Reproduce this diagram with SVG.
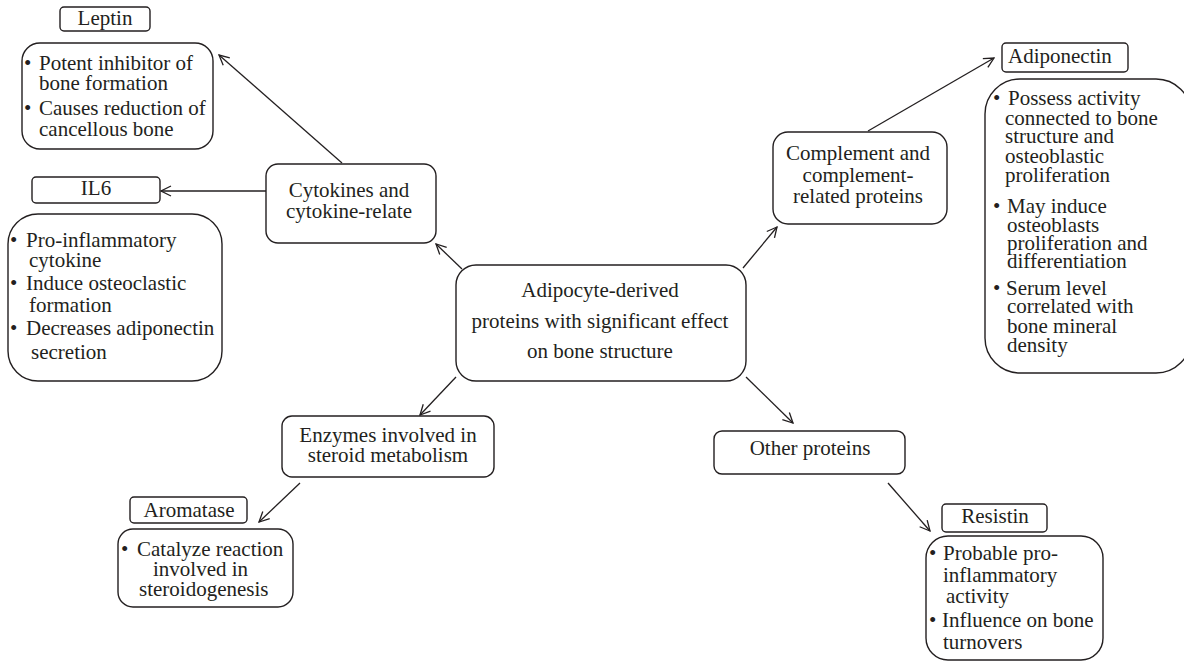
<svg xmlns="http://www.w3.org/2000/svg" width="1184" height="663" viewBox="0 0 1184 663">
<style>
.box{fill:#fff;stroke:#231f20;stroke-width:1.4}
text{font-family:"Liberation Serif","Times New Roman",serif;font-size:21px;fill:#231f20}
.c{text-anchor:middle}
.ln{stroke:#231f20;stroke-width:1.3;fill:none}
</style>
<defs>
<marker id="ah" viewBox="0 0 12 12" refX="11" refY="6" markerWidth="12" markerHeight="12" markerUnits="userSpaceOnUse" orient="auto">
<path d="M1,1 L11,6 L1,11" fill="none" stroke="#231f20" stroke-width="1.3"/>
</marker>
</defs>
<rect width="1184" height="663" fill="#fff"/>

<g id="connectors">
<line class="ln" x1="342" y1="163" x2="219" y2="55" marker-end="url(#ah)"/>
<line class="ln" x1="266" y1="191" x2="161" y2="191" stroke-width="2.2" marker-end="url(#ah)"/>
<line class="ln" x1="462" y1="269" x2="436" y2="244" marker-end="url(#ah)"/>
<line class="ln" x1="743" y1="268" x2="777" y2="227" marker-end="url(#ah)"/>
<line class="ln" x1="868" y1="131" x2="994" y2="58" marker-end="url(#ah)"/>
<line class="ln" x1="456" y1="377" x2="420" y2="415" marker-end="url(#ah)"/>
<line class="ln" x1="746" y1="377" x2="793" y2="423" marker-end="url(#ah)"/>
<line class="ln" x1="300" y1="483" x2="259" y2="522" marker-end="url(#ah)"/>
<line class="ln" x1="888" y1="483" x2="930" y2="531" marker-end="url(#ah)"/>
</g>

<g id="center">
<rect class="box" x="456" y="265" width="290" height="116" rx="20"/>
<text class="c" x="600" y="297">Adipocyte-derived</text>
<text class="c" x="600" y="328">proteins with significant effect</text>
<text class="c" x="600" y="358">on bone structure</text>
</g>

<g id="cytokines">
<rect class="box" x="266" y="164" width="170" height="79" rx="12"/>
<text class="c" x="349" y="197">Cytokines and</text>
<text class="c" x="349" y="218">cytokine-relate</text>
</g>

<g id="leptin">
<rect class="box" x="60" y="7" width="90" height="24" rx="4"/>
<text class="c" x="105" y="25">Leptin</text>
</g>

<g id="leptin-details">
<rect class="box" x="22" y="43" width="191" height="106" rx="18"/>
<text x="24" y="70">•<tspan x="39">Potent inhibitor of</tspan></text>
<text x="39" y="90">bone formation</text>
<text x="24" y="115">•<tspan x="39">Causes reduction of</tspan></text>
<text x="39" y="136">cancellous bone</text>
</g>

<g id="il6">
<rect class="box" x="32" y="177" width="128" height="26" rx="4"/>
<text class="c" x="96" y="195">IL6</text>
</g>

<g id="il6-details">
<rect class="box" x="8" y="214" width="214" height="167" rx="30"/>
<text x="10" y="247">•<tspan x="26">Pro-inflammatory</tspan></text>
<text x="29" y="267">cytokine</text>
<text x="10" y="290">•<tspan x="26">Induce osteoclastic</tspan></text>
<text x="29" y="312">formation</text>
<text x="10" y="335">•<tspan x="26">Decreases adiponectin</tspan></text>
<text x="31" y="359">secretion</text>
</g>

<g id="complement">
<rect class="box" x="773" y="132" width="174" height="92" rx="15"/>
<text class="c" x="858" y="160">Complement and</text>
<text class="c" x="858" y="182">complement-</text>
<text class="c" x="858" y="203">related proteins</text>
</g>

<g id="adiponectin">
<rect class="box" x="1002" y="43" width="126" height="29" rx="4"/>
<text x="1008" y="63">Adiponectin</text>
</g>

<g id="adiponectin-details">
<rect class="box" x="985" y="79" width="206" height="294" rx="35"/>
<text x="993" y="105">•<tspan x="1008">Possess activity</tspan></text>
<text x="1005" y="125">connected to bone</text>
<text x="1005" y="143">structure and</text>
<text x="1005" y="163">osteoblastic</text>
<text x="1005" y="182">proliferation</text>
<text x="993" y="213">•<tspan x="1007">May induce</tspan></text>
<text x="1007" y="232">osteoblasts</text>
<text x="1007" y="250">proliferation and</text>
<text x="1007" y="268">differentiation</text>
<text x="993" y="295">•<tspan x="1006">Serum level</tspan></text>
<text x="1007" y="313">correlated with</text>
<text x="1007" y="333">bone mineral</text>
<text x="1007" y="352">density</text>
</g>

<g id="enzymes">
<rect class="box" x="282" y="416" width="212" height="61" rx="10"/>
<text class="c" x="388" y="442">Enzymes involved in</text>
<text class="c" x="388" y="462">steroid metabolism</text>
</g>

<g id="aromatase">
<rect class="box" x="130" y="497" width="117" height="26" rx="4"/>
<text class="c" x="189" y="517">Aromatase</text>
</g>

<g id="aromatase-details">
<rect class="box" x="118" y="529" width="175" height="78" rx="15"/>
<text x="121" y="556">•<tspan x="137">Catalyze reaction</tspan></text>
<text x="153" y="576">involved in</text>
<text x="139" y="596">steroidogenesis</text>
</g>

<g id="other">
<rect class="box" x="714" y="431" width="191" height="43" rx="8"/>
<text class="c" x="810" y="455">Other proteins</text>
</g>

<g id="resistin">
<rect class="box" x="942" y="504" width="105" height="28" rx="4"/>
<text class="c" x="995" y="523">Resistin</text>
</g>

<g id="resistin-details">
<rect class="box" x="926" y="536" width="177" height="124" rx="22"/>
<text x="929" y="560">•<tspan x="943">Probable pro-</tspan></text>
<text x="943" y="582">inflammatory</text>
<text x="946" y="603">activity</text>
<text x="929" y="627">•<tspan x="942">Influence on bone</tspan></text>
<text x="943" y="649">turnovers</text>
</g>
</svg>
